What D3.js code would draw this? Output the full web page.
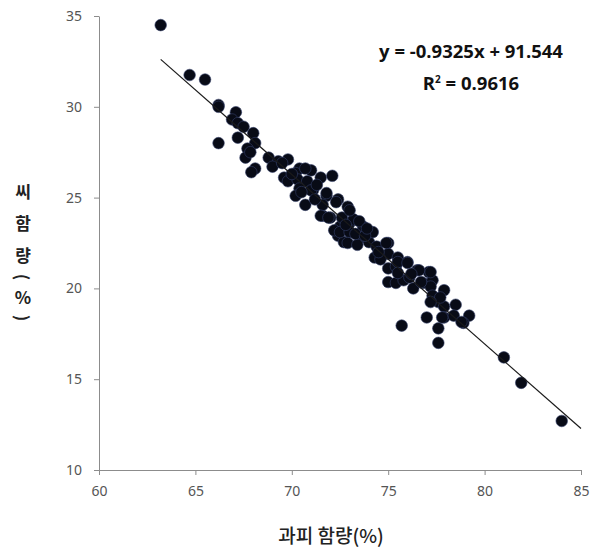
<!DOCTYPE html>
<html>
<head>
<meta charset="utf-8">
<script src="https://cdn.jsdelivr.net/npm/d3@7"></script>
<style>
  html, body { margin: 0; padding: 0; background: #fff; }
  svg { display: block; }
</style>
</head>
<body>
<svg id="chart" width="599" height="551"></svg>
<script>
// ---- Data ----
const peel = [63.2,64.7,65.5,66.2,66.2,66.2,67.1,66.9,67.2,67.5,67.2,68.0,68.1,67.7,67.6,68.1,67.9,67.85,
  68.8,69.3,69.0,69.8,70.4,71.0,70.2,69.6,69.8,70.3,70.8,71.5,70.4,71.1,70.2,70.7,71.8,72.4,71.6,72.0,72.9,72.5,73.0,72.4,72.7,
  71.0,71.8,71.6,72.3,71.5,71.9,72.6,73.2,73.7,72.2,72.5,73.0,72.9,73.6,74.0,74.2,73.4,75.0,74.4,74.3,75.0,75.5,76.0,75.0,75.4,
  76.5,77.1,75.0,75.4,75.8,76.3,76.1,76.8,77.3,77.2,77.3,77.9,77.6,77.9,78.5,77.9,78.4,79.2,78.9,77.0,75.7,77.6,77.6,
  74.9,75.5,76.0,76.6,77.2,75.5,76.7,77.7,77.2,78.8,77.8,70.7,72.1,73.0,73.3,69.5,70.0,71.3,73.8,74.6,76.2,
  73.5,73.9,72.8,71.2,70.5,74.5,
  81.0,81.9,84.0];
const seed = [34.5,31.75,31.5,30.1,28.0,30.0,29.7,29.3,29.1,28.9,28.3,28.55,28.0,27.7,27.2,26.6,26.4,27.5,
  27.2,27.0,26.7,27.1,26.6,26.5,26.35,26.1,25.9,26.0,25.9,26.1,25.5,25.4,25.1,24.6,25.1,24.9,24.0,23.9,24.5,23.4,23.6,22.9,22.55,
  25.4,25.25,24.6,24.75,24.0,23.9,23.9,23.8,23.4,23.2,23.1,23.1,22.5,22.8,22.55,23.1,22.4,22.5,22.3,21.7,21.9,21.7,21.45,21.1,21.2,
  21.0,20.9,20.35,20.3,20.45,20.0,20.6,20.3,20.45,20.1,19.6,19.9,19.25,19.0,19.1,18.4,18.5,18.5,18.1,18.4,17.95,17.8,17.0,
  22.5,21.45,21.4,21.0,20.9,20.85,20.35,19.5,19.25,18.15,18.4,26.6,26.2,24.3,23.0,26.9,26.3,25.7,22.9,21.6,20.8,
  23.7,23.3,23.5,24.9,25.3,22.0,
  16.2,14.8,12.7];

const slope = -0.9325;
const intercept = 91.544;
const rSquared = 0.9616;
const trendRange = [63.2, 85];

const xTicks = [60, 65, 70, 75, 80, 85];
const yTicks = [10, 15, 20, 25, 30, 35];
const xTitle = "과피 함량(%)";
const yTitleChars = ["씨", "함", "량", "(", "%", ")"];

// ---- Layout ----
const svg = d3.select("#chart");
const x = d3.scaleLinear().domain([60, 85]).range([99, 581]);
const y = d3.scaleLinear().domain([10, 35]).range([470, 16]);

const axisColor = "#8c8c8c";
const tickTextColor = "#555";

// Axes
const xAxis = svg.append("g")
  .attr("transform", `translate(0,${y(10)})`)
  .call(d3.axisBottom(x).tickValues(xTicks).tickSize(5).tickSizeOuter(0).tickPadding(11).tickFormat(d3.format("d")));
const yAxis = svg.append("g")
  .attr("transform", `translate(${x(60)},0)`)
  .call(d3.axisLeft(y).tickValues(yTicks).tickSize(5).tickSizeOuter(0).tickPadding(12).tickFormat(d3.format("d")));

[xAxis, yAxis].forEach(g => {
  g.select(".domain").attr("stroke", axisColor).attr("stroke-width", 1);
  g.selectAll(".tick line").attr("stroke", axisColor);
  g.selectAll(".tick text")
    .attr("fill", tickTextColor)
    .style("font-family", "'Noto Sans', 'DejaVu Sans', sans-serif")
    .style("font-size", "14px");
});

// Points
const pts = peel.map((v, i) => [v, seed[i]]);
svg.append("g").selectAll("circle")
  .data(pts)
  .join("circle")
  .attr("cx", d => x(d[0]))
  .attr("cy", d => y(d[1]))
  .attr("r", 5.8)
  .attr("fill", "#080b16")
  .attr("stroke", "#34406a")
  .attr("stroke-width", 0.6);

// Trendline
svg.append("line")
  .attr("x1", x(trendRange[0]))
  .attr("y1", y(slope * trendRange[0] + intercept))
  .attr("x2", x(trendRange[1]))
  .attr("y2", y(slope * trendRange[1] + intercept))
  .attr("stroke", "#1a1a1a")
  .attr("stroke-width", 1.2);

// Equation
const eqFont = "'Open Sans', 'Noto Sans', sans-serif";
svg.append("text")
  .attr("x", 471).attr("y", 58)
  .attr("text-anchor", "middle")
  .style("font-family", eqFont).style("font-weight", "bold").style("font-size", "18.5px")
  .attr("fill", "#111")
  .text(`y = ${slope}x + ${intercept}`);
const r2 = svg.append("text")
  .attr("x", 471).attr("y", 90)
  .attr("text-anchor", "middle")
  .style("font-family", eqFont).style("font-weight", "bold").style("font-size", "18.5px")
  .attr("fill", "#111");
r2.append("tspan").text("R");
r2.append("tspan").attr("dy", -7).style("font-size", "10px").text("2");
r2.append("tspan").attr("dy", 7).text(` = ${rSquared}`);

// X title
svg.append("text")
  .attr("x", 331).attr("y", 543)
  .attr("text-anchor", "middle")
  .style("font-family", "'Noto Sans CJK KR', sans-serif")
  .style("font-size", "19px")
  .style("font-weight", "500")
  .attr("fill", "#222")
  .text(xTitle);

// Y title (stacked characters)
const yTitlePos = [190, 222, 254, 277, 296, 318];
const yt = svg.append("g");
yTitleChars.forEach((c, i) => {
  const t = yt.append("text")
    .attr("text-anchor", "middle")
    .attr("dominant-baseline", "central")
    .style("font-family", "'Noto Sans CJK KR', sans-serif")
    .style("font-size", "17px")
    .style("font-weight", "bold")
    .attr("fill", "#222")
    .text(c);
  if (c === "(" || c === ")") {
    t.attr("transform", `translate(23,${yTitlePos[i]}) rotate(90)`);
  } else {
    t.attr("transform", `translate(23,${yTitlePos[i]})`);
  }
});
</script>
</body>
</html>
